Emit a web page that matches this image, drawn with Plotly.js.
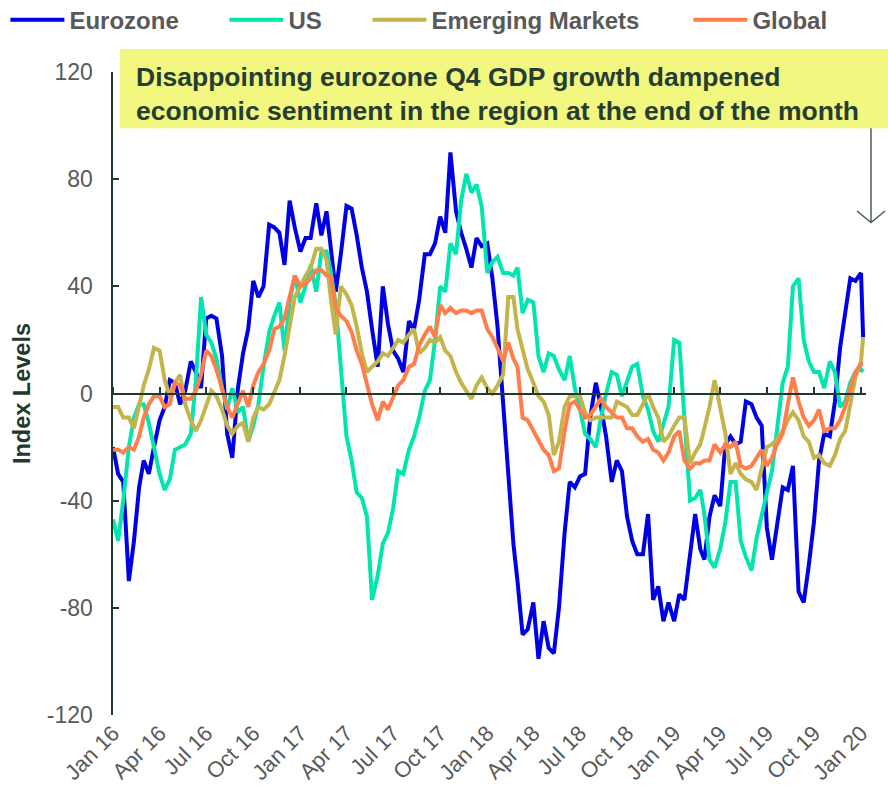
<!DOCTYPE html>
<html>
<head>
<meta charset="utf-8">
<script src="https://cdn.plot.ly/plotly-3.0.1.min.js"></script>
<style>html,body{margin:0;padding:0;background:#fff;}#chart{width:888px;height:798px;}</style>
</head>
<body>
<div id="chart"></div>
<script>
// Series names and colours
const seriesNames = ['Eurozone', 'US', 'Emerging Markets', 'Global'];
const seriesColors = ['#0000E6', '#00E6AE', '#C4B44C', '#FF7E4C'];

// Sample dates: 1st, 11th and 21st of each month, Jan 2016 - Dec 2019, then early Jan 2020
const dates = [];
for (let y = 2016; y <= 2019; y++) {
  for (let m = 1; m <= 12; m++) {
    for (const d of [1, 11, 21]) {
      dates.push(y + '-' + String(m).padStart(2, '0') + '-' + String(d).padStart(2, '0'));
    }
  }
}
dates.push('2020-01-01', '2020-01-05');

// Index levels
const eurozone = [
-20,-30,-33,-70,-55,-35,-25,-30,-20,-10,
-5,5,4,-4,1,12,8,2,28,29,
28,14,-15,-24,2,15,24,42,36,40,
63,62,60,48,72,62,53,58,58,71,
59,68,55,38,52,70,69,59,47,38,
24,10,40,26,16,13,8,27,24,35,
52,52,56,66,60,90,68,60,54,47,
58,55,56,43,25,-4,-30,-56,-70,-90,
-88,-78,-99,-85,-95,-97,-80,-52,-33,-35,
-31,-30,-9,4,-5,-16,-33,-25,-29,-46,
-55,-60,-60,-45,-77,-72,-85,-78,-85,-75,
-77,-61,-45,-58,-62,-46,-38,-42,-19,-16,
-19,-18,-3,-4,-9,-12,-50,-62,-50,-35,
-36,-27,-74,-78,-64,-48,-25,-15,-16,-3,
17,30,43,42,45,21
];
const us = [
-47,-55,-40,-20,-9,-4,-4,-11,-20,-30,
-36,-32,-21,-20,-19,-15,5,36,22,19,
13,2,-6,2,-7,-5,-18,-12,-4,10,
23,29,34,16,34,44,34,40,48,38,
53,53,46,33,8,-16,-25,-37,-39,-46,
-77,-68,-56,-52,-43,-29,-30,-21,-16,-9,
1,5,20,40,38,56,52,72,82,75,
78,70,45,49,51,45,45,44,47,30,
35,34,14,8,15,14,9,5,14,2,
-6,-15,-17,-20,-9,0,8,7,-1,4,
10,11,-1,-6,-14,-18,-12,-5,20,19,
-9,-40,-39,-36,-45,-62,-65,-58,-48,-33,
-33,-55,-61,-66,-54,-45,-37,-29,-12,4,
10,40,43,20,12,8,8,2,12,8,
-5,-3,4,8,9,8
];
const emergingMarkets = [
-5,-5,-9,-9,-13,-5,3,9,17,16,
5,-1,4,7,-4,-10,-14,-10,-4,1,
-1,-6,-12,-15,-12,-11,-18,-9,-5,-6,
-4,1,5,14,25,36,40,44,47,54,
54,50,36,22,40,37,33,25,15,8,
10,12,15,14,17,20,19,22,24,15,
17,20,19,21,16,14,8,4,1,-2,
3,6,2,0,3,7,36,36,24,16,
9,4,-1,-3,-8,-23,-18,-5,-1,-1,
-1,-7,-10,-9,-9,-9,-9,-3,-4,-5,
-8,-8,-4,0,-5,-9,-18,-16,-12,-9,
-9,-26,-22,-19,-13,-5,5,-5,-15,-30,
-26,-30,-32,-33,-36,-28,-20,-19,-17,-14,
-10,-7,-10,-16,-18,-24,-23,-26,-27,-23,
-17,-14,-4,6,12,21
];
const global = [
-21,-21,-22,-20,-21,-16,-9,-4,-1,-1,
-5,-4,4,3,-2,-2,1,7,16,14,
9,2,-5,-9,-4,1,-5,3,8,11,
16,24,25,28,36,44,40,41,43,46,
46,44,44,32,29,27,23,16,11,4,
-4,-10,-3,-6,-1,3,5,10,11,18,
22,25,21,33,30,32,30,31,31,30,
31,31,24,21,17,12,19,13,10,-9,
-10,-14,-18,-21,-23,-29,-28,-14,-4,-3,
-6,-9,-8,-5,-2,-5,-7,-9,-9,-13,
-13,-16,-18,-17,-21,-22,-25,-22,-16,-14,
-25,-28,-26,-26,-25,-25,-19,-22,-19,-20,
-18,-27,-28,-27,-24,-21,-27,-24,-19,-15,
-4,6,-3,-9,-12,-10,-6,-14,-13,-13,
-10,-5,2,8,11,11
];

const yTickVals = [-120, -80, -40, 0, 40, 80, 120];
const yTickText = ['-120', '-80', '-40', '0', '40', '80', '120'];
const noteText = 'Disappointing eurozone Q4 GDP growth dampened<br>economic sentiment in the region at the end of the month';

const values = [eurozone, us, emergingMarkets, global];
const legendWidths = [150, 74, 252, 80];

const FONT = '"Liberation Sans", Arial, sans-serif';
const AXIS = '#1F3A2C';
const GREY = '#595959';

const traces = values.map((v, i) => ({
  type: 'scatter', mode: 'lines',
  x: dates, y: v, name: seriesNames[i],
  line: {color: seriesColors[i], width: 4},
  legendwidth: legendWidths[i]
}));
// empty helper trace so the zero-line axis (ticks on y = 0) is drawn
traces.push({type: 'scatter', mode: 'lines', x: [], y: [], xaxis: 'x2', showlegend: false, hoverinfo: 'skip'});

const xRange = ['2016-01-01', '2020-01-10 16:00'];

const layout = {
  width: 888, height: 798,
  margin: {l: 113, r: 22, t: 72, b: 83, autoexpand: false},
  paper_bgcolor: '#ffffff', plot_bgcolor: '#ffffff',
  font: {family: FONT, color: GREY},
  showlegend: true,
  legend: {
    orientation: 'h', x: -0.1429, xanchor: 'left', y: 1.0808, yanchor: 'middle',
    font: {size: 24, color: GREY, weight: 'bold', family: FONT},
    itemwidth: 54, traceorder: 'normal', bgcolor: 'rgba(0,0,0,0)'
  },
  xaxis: {
    type: 'date', range: xRange,
    tick0: '2016-01-01', dtick: 'M3', tickformat: '%b %y',
    tickangle: -45, ticks: '', showline: false, showgrid: false, zeroline: false,
    tickfont: {size: 22, color: GREY, family: FONT}
  },
  xaxis2: {
    type: 'date', range: xRange, overlaying: 'x', anchor: 'free', position: 0.5, side: 'top',
    tick0: '2016-01-01', dtick: 'M3', showticklabels: false,
    showline: true, linecolor: AXIS, linewidth: 2,
    ticks: 'outside', ticklen: 6, tickwidth: 2, tickcolor: AXIS,
    showgrid: false, zeroline: false
  },
  yaxis: {
    range: [-120, 120], tickvals: yTickVals, ticktext: yTickText,
    showline: true, linecolor: AXIS, linewidth: 2.5,
    ticks: 'inside', ticklen: 6, tickwidth: 2, tickcolor: AXIS,
    showgrid: false, zeroline: false,
    tickfont: {size: 23, color: GREY, family: FONT},
    ticklabelstandoff: 13,
    title: {text: 'Index Levels', font: {size: 23.5, color: AXIS, weight: 'bold', family: FONT}, standoff: 10}
  },
  shapes: [
    {type: 'rect', xref: 'paper', yref: 'paper', x0: 0.0093, x1: 1.0292, y0: 0.9124, y1: 1.0358,
     fillcolor: '#F2F780', line: {width: 0}, layer: 'above'},
    {type: 'line', xref: 'paper', yref: 'paper', x0: 1.00664, x1: 1.00664, y0: 0.9124, y1: 0.76594,
     line: {color: '#4D5D55', width: 1.5}},
    {type: 'path', xref: 'paper', yref: 'paper',
     path: 'M 0.98805 0.78383 L 1.00664 0.76594 L 1.02523 0.78383',
     line: {color: '#4D5D55', width: 1.5}}
  ],
  annotations: [
    {xref: 'paper', yref: 'paper', x: 0.0279, y: 0.9654, xanchor: 'left', yanchor: 'middle',
     text: noteText, showarrow: false, align: 'left',
     font: {size: 26.5, color: '#263D31', weight: 'bold', family: FONT}}
  ]
};

Plotly.newPlot('chart', traces, layout, {displayModeBar: false, staticPlot: true});
</script>
</body>
</html>
